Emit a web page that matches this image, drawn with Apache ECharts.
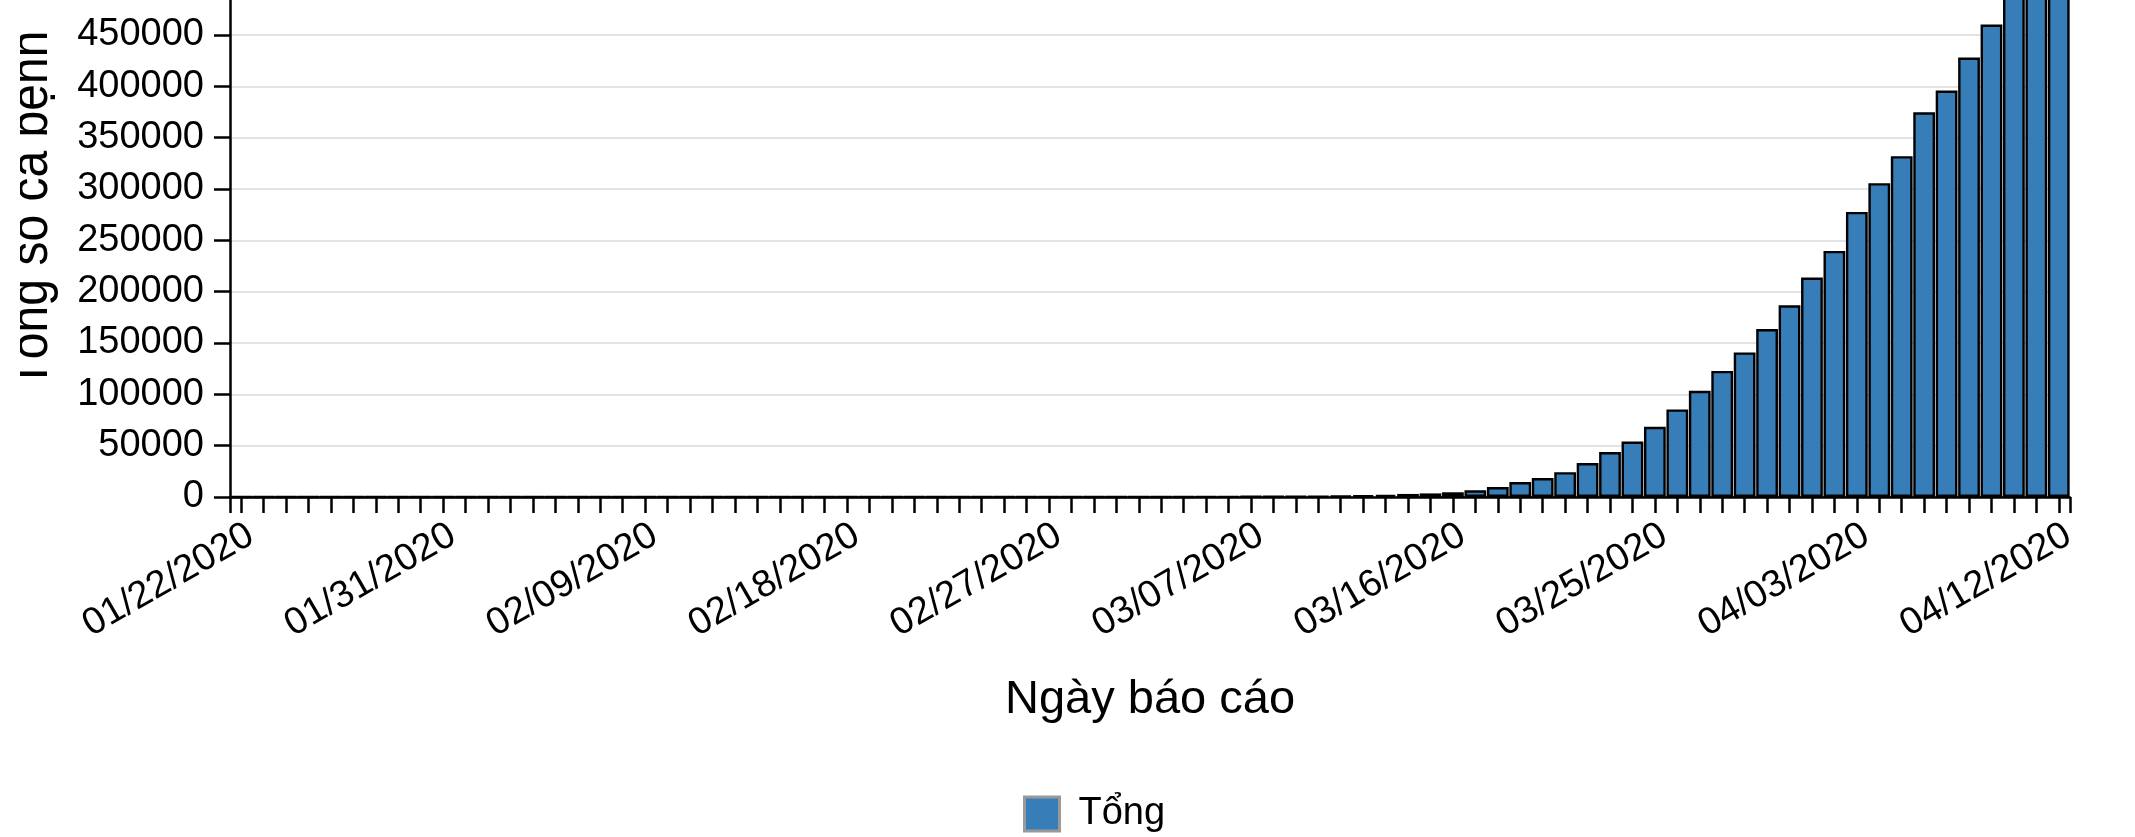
<!DOCTYPE html>
<html>
<head>
<meta charset="utf-8">
<script src="https://cdn.jsdelivr.net/npm/echarts@6/dist/echarts.min.js"></script>
<style>
html,body{margin:0;padding:0;background:#fff;}
#chart{width:2135px;height:837px;}
</style>
</head>
<body>
<div id="chart"></div>
<script>
// ---- data ----
const dates = [
  '01/22/2020','01/23/2020','01/24/2020','01/25/2020','01/26/2020','01/27/2020','01/28/2020','01/29/2020','01/30/2020','01/31/2020',
  '02/01/2020','02/02/2020','02/03/2020','02/04/2020','02/05/2020','02/06/2020','02/07/2020','02/08/2020','02/09/2020','02/10/2020',
  '02/11/2020','02/12/2020','02/13/2020','02/14/2020','02/15/2020','02/16/2020','02/17/2020','02/18/2020','02/19/2020','02/20/2020',
  '02/21/2020','02/22/2020','02/23/2020','02/24/2020','02/25/2020','02/26/2020','02/27/2020','02/28/2020','02/29/2020',
  '03/01/2020','03/02/2020','03/03/2020','03/04/2020','03/05/2020','03/06/2020','03/07/2020','03/08/2020','03/09/2020','03/10/2020',
  '03/11/2020','03/12/2020','03/13/2020','03/14/2020','03/15/2020','03/16/2020','03/17/2020','03/18/2020','03/19/2020','03/20/2020',
  '03/21/2020','03/22/2020','03/23/2020','03/24/2020','03/25/2020','03/26/2020','03/27/2020','03/28/2020','03/29/2020','03/30/2020',
  '03/31/2020','04/01/2020','04/02/2020','04/03/2020','04/04/2020','04/05/2020','04/06/2020','04/07/2020','04/08/2020','04/09/2020',
  '04/10/2020','04/11/2020','04/12/2020'
];
const totalCases = [
  1,1,2,2,5,5,5,6,6,8,
  8,8,11,11,11,12,12,12,12,12,
  13,13,14,14,14,14,14,14,14,14,
  16,16,16,16,16,16,17,17,25,
  32,55,74,107,184,237,403,519,594,782,
  1147,1586,2219,2978,3500,4600,6500,9700,14600,18500,
  24200,33000,43800,54000,68400,85300,103500,122800,140800,163600,
  186700,213700,239700,277600,305600,331900,374700,395800,428000,460100,
  496500,526400,555300
];
const seriesName = 'Tổng';
const xTitle = 'Ngày báo cáo';
const yTitle = 'Tổng số ca bệnh';
const yMax = 560000;
const yStep = 50000;

// ---- chart ----
const FONT = '"Liberation Sans", Arial, Helvetica, sans-serif';
const chart = echarts.init(document.getElementById('chart'), null, {renderer: 'canvas'});
const gridBox = {left: 230, right: 65, top: -78, bottom: 340, containLabel: false, outerBoundsMode: 'none'};
chart.setOption({
  animation: false,
  backgroundColor: '#ffffff',
  grid: [Object.assign({}, gridBox), Object.assign({}, gridBox)],
  legend: {
    data: [seriesName],
    left: 1023,
    top: 795,
    padding: 0,
    icon: 'rect',
    itemWidth: 35,
    itemHeight: 34,
    itemStyle: {borderColor: '#999999', borderWidth: 3},
    textStyle: {fontSize: 38, color: '#000', fontFamily: FONT, padding: [0, 0, 0, 14]}
  },
  xAxis: [{
    type: 'category',
    gridIndex: 0,
    data: dates,
    boundaryGap: true,
    name: xTitle,
    nameLocation: 'middle',
    nameGap: 180,
    nameTextStyle: {fontSize: 47, color: '#000', fontFamily: FONT},
    axisLine: {show: true, lineStyle: {color: '#000', width: 2.5}},
    axisTick: {show: true, interval: 0, alignWithLabel: true, length: 16, lineStyle: {color: '#000', width: 2.5}},
    axisLabel: {
      interval: 8, rotate: 30, margin: 41, fontSize: 38, color: '#000', fontFamily: FONT,
      padding: [0, -11, 0, 0]
    },
    splitLine: {show: false}
  }, {
    type: 'category',
    gridIndex: 1,
    data: [''],
    boundaryGap: true,
    axisLine: {show: false},
    axisTick: {show: true, alignWithLabel: false, length: 16, lineStyle: {color: '#000', width: 2.5}},
    axisLabel: {show: false},
    splitLine: {show: false}
  }],
  yAxis: [{
    type: 'value',
    gridIndex: 0,
    min: 0,
    max: yMax,
    interval: yStep,
    axisLine: {show: true, lineStyle: {color: '#000', width: 2.5}},
    axisTick: {show: true, length: 16, lineStyle: {color: '#000', width: 2.5}},
    axisLabel: {
      margin: 26, fontSize: 38, color: '#000', fontFamily: FONT,
      formatter: v => (v % yStep === 0 ? String(v) : '')
    },
    splitLine: {show: true, lineStyle: {color: '#e3e3e3', width: 2}}
  }, {
    type: 'value',
    gridIndex: 1,
    show: false
  }],
  series: [{
    name: seriesName,
    type: 'bar',
    xAxisIndex: 0,
    yAxisIndex: 0,
    data: totalCases,
    barCategoryGap: '3%',
    itemStyle: {color: '#377eb8', borderColor: '#000', borderWidth: 2.4},
    emphasis: {disabled: true}
  }],
  graphic: [{
    type: 'text',
    x: 32,
    y: 209.5,
    rotation: Math.PI / 2,
    scaleX: 0.89,
    z: 10,
    style: {text: yTitle, font: '54px ' + FONT, fill: '#000', align: 'center', verticalAlign: 'middle'}
  }, {
    type: 'rect',
    z: 20,
    shape: {x: 0, y: 0, width: 20, height: 837},
    style: {fill: '#ffffff'}
  }]
});
</script>
</body>
</html>
